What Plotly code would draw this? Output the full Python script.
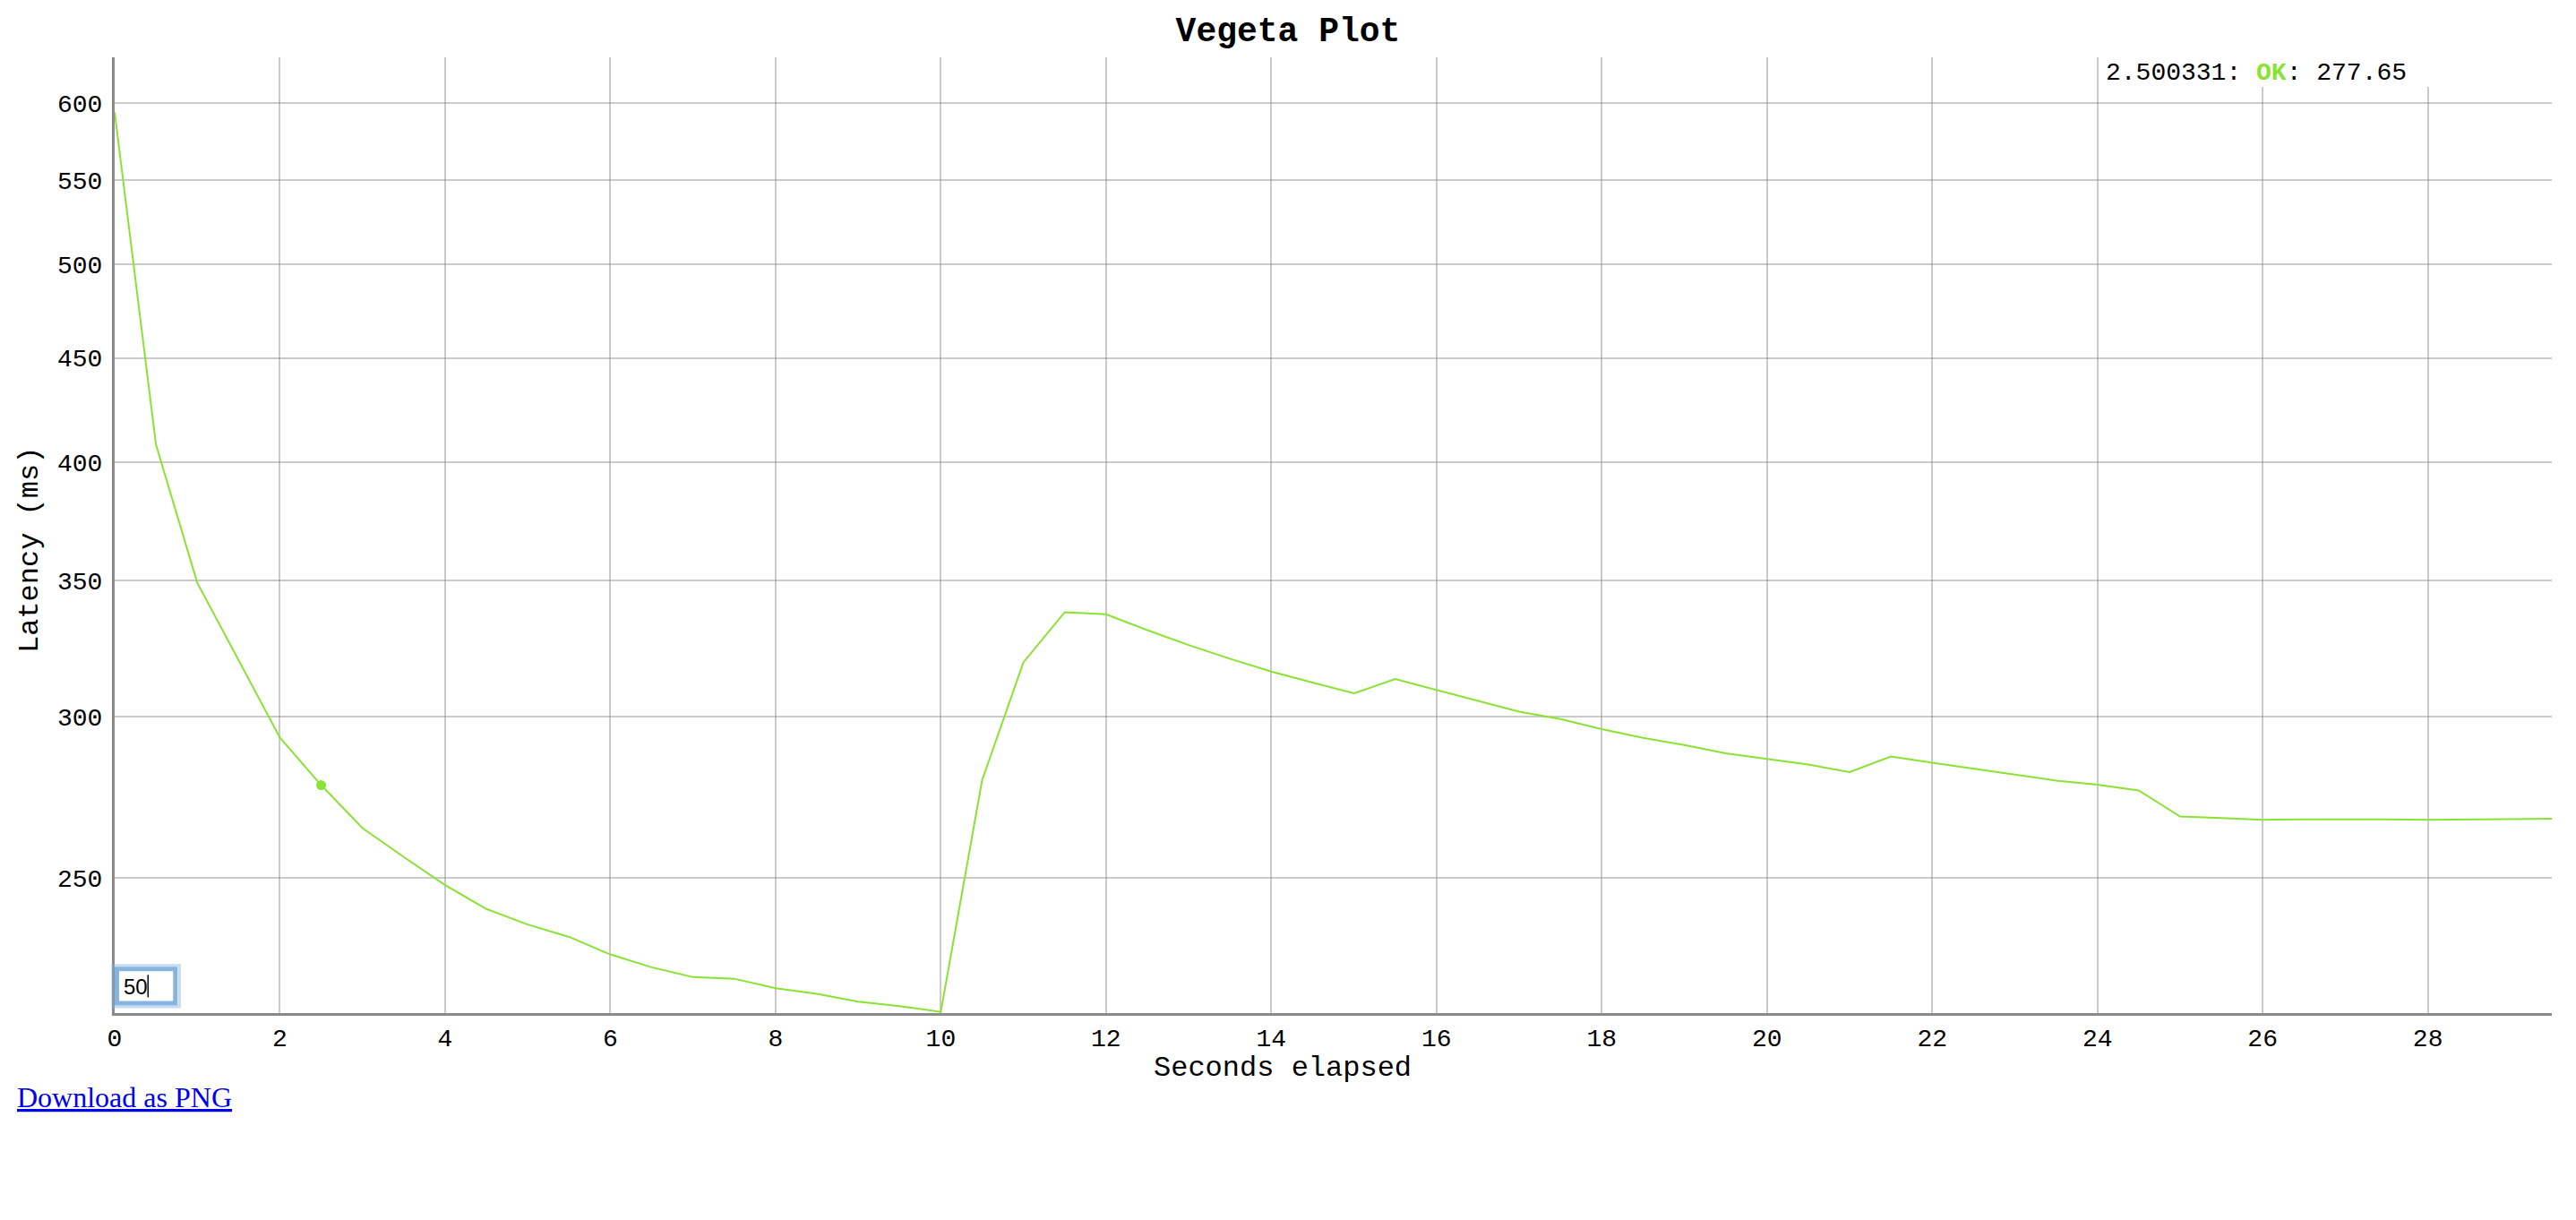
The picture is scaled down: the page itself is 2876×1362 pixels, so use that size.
import numpy as np
import plotly.graph_objs as go

# seconds elapsed (one sample every half second)
seconds = [0, 0.5, 1, 1.5, 2, 2.5, 3, 3.5, 4, 4.5,
           5, 5.5, 6, 6.5, 7, 7.5, 8, 8.5, 9, 9.5,
           10, 10.5, 11, 11.5, 12, 12.5, 13, 13.5, 14, 14.5,
           15, 15.5, 16, 16.5, 17, 17.5, 18, 18.5, 19, 19.5,
           20, 20.5, 21, 21.5, 22, 22.5, 23, 23.5, 24, 24.5,
           25, 25.5, 26, 26.5, 27, 27.5, 28, 28.5, 29, 29.5]

# latency of OK requests (ms)
latency_ok = [594, 408, 349, 320, 293, 277.65, 264.5, 256, 248, 241.4,
              237.2, 233.9, 229.3, 226, 223.5, 223.1, 220.7, 219.3, 217.4, 216.3,
              214.9, 279.2, 319, 337.6, 336.8, 330.8, 325.3, 320.3, 315.7, 311.8,
              308, 313, 309.2, 305.3, 301.7, 299.2, 295.8, 292.9, 290.5, 287.8,
              285.9, 284.2, 281.8, 286.8, 284.8, 283, 281, 279.1, 277.8, 276,
              268, 267.5, 267, 267.1, 267.2, 267.1, 267, 267, 267.2, 267.3]

y_ticks = [250, 300, 350, 400, 450, 500, 550, 600]
x_ticks = [0, 2, 4, 6, 8, 10, 12, 14, 16, 18, 20, 22, 24, 26, 28]

highlight_x = 2.500331
highlight_y = 277.65
roll_period = "50"

ok_color = "#8ae234"
mono = "Liberation Mono"

fig = go.Figure()
fig.add_trace(go.Scatter(x=seconds, y=latency_ok, mode="lines", name="OK",
                         line=dict(color=ok_color, width=2),
                         hoverinfo="skip"))
# highlighted point under the mouse
fig.add_trace(go.Scatter(x=[highlight_x], y=[highlight_y], mode="markers",
                         marker=dict(color=ok_color, size=11),
                         hoverinfo="skip"))

grid = "rgba(128,128,128,0.42)"

fig.update_layout(
    width=2876, height=1362,
    margin=dict(l=128, r=27, t=64, b=231),
    plot_bgcolor="white", paper_bgcolor="white",
    showlegend=False,
    title=dict(text="<b>Vegeta Plot</b>", x=0.5, xref="container", xanchor="center",
               y=1 - 33 / 1362, yref="container", yanchor="middle",
               font=dict(family=mono, size=38, color="black")),
    font=dict(family=mono, color="black"),
)

fig.update_xaxes(range=[0, 29.5], tickvals=x_ticks, ticktext=[str(t) for t in x_ticks],
                 showgrid=True, gridcolor=grid, gridwidth=2, zeroline=False,
                 showline=True, linecolor="#8a8a8a", linewidth=3,
                 ticks="", ticklabelstandoff=0,
                 tickfont=dict(family=mono, size=28, color="black"))
fig.update_yaxes(type="log", range=[np.log10(214.6), np.log10(632)],
                 tickvals=y_ticks, ticktext=[str(t) for t in y_ticks],
                 showgrid=True, gridcolor=grid, gridwidth=2, zeroline=False,
                 showline=True, linecolor="#8a8a8a", linewidth=3,
                 ticks="", ticklabelstandoff=5,
                 tickfont=dict(family=mono, size=28, color="black"))

# legend box (dygraph style) at the top right
fig.add_shape(type="rect", xref="paper", yref="paper", x0=0.8155, x1=0.999, y0=0.969, y1=1.0,
              fillcolor="white", line=dict(width=0), layer="above")
fig.add_annotation(xref="paper", yref="paper", x=0.8162, y=0.984, xanchor="left", yanchor="middle",
                   showarrow=False,
                   text="%.6f: <b><span style='color:%s'>OK</span></b>: %.2f" % (highlight_x, ok_color, highlight_y),
                   font=dict(family=mono, size=28, color="black"))

# axis labels
fig.add_annotation(xref="paper", yref="paper", x=-0.0349, y=0.4845, textangle=-90,
                   xanchor="center", yanchor="middle",
                   showarrow=False, text="Latency (ms)",
                   font=dict(family=mono, size=32, color="black"))
fig.add_annotation(xref="paper", yref="paper", x=0.4792, y=-0.0572,
                   xanchor="center", yanchor="middle",
                   showarrow=False, text="Seconds elapsed",
                   font=dict(family=mono, size=32, color="black"))

# rolling period input box
fig.add_shape(type="rect", xref="paper", yref="paper", x0=-0.0008, x1=0.0266, y0=0.0065, y1=0.0500,
              fillcolor="rgba(0,0,0,0)", line=dict(color="rgba(130,175,225,0.45)", width=3), layer="above")
fig.add_shape(type="rect", xref="paper", yref="paper", x0=0.0009, x1=0.0249, y0=0.0103, y1=0.0462,
              fillcolor="white", line=dict(color="#86b4df", width=5), layer="above")
fig.add_annotation(xref="paper", yref="paper", x=0.0030, y=0.0281, xanchor="left", yanchor="middle",
                   showarrow=False, text=roll_period,
                   font=dict(family="Liberation Sans", size=24, color="black"))
fig.add_shape(type="line", xref="paper", yref="paper", x0=0.0137, x1=0.0137, y0=0.0165, y1=0.0400,
              line=dict(color="black", width=1.5), layer="above")

# link under the chart
fig.add_annotation(xref="paper", yref="paper", x=-0.0408, y=-0.0881, xanchor="left", yanchor="middle",
                   showarrow=False, text="<u>Download as PNG</u>",
                   font=dict(family="Liberation Serif", size=32, color="#0000ee"))

fig.write_html("out.html", config={"displayModeBar": False},
               post_script="document.body.style.margin='0';document.body.style.overflow='hidden';")
